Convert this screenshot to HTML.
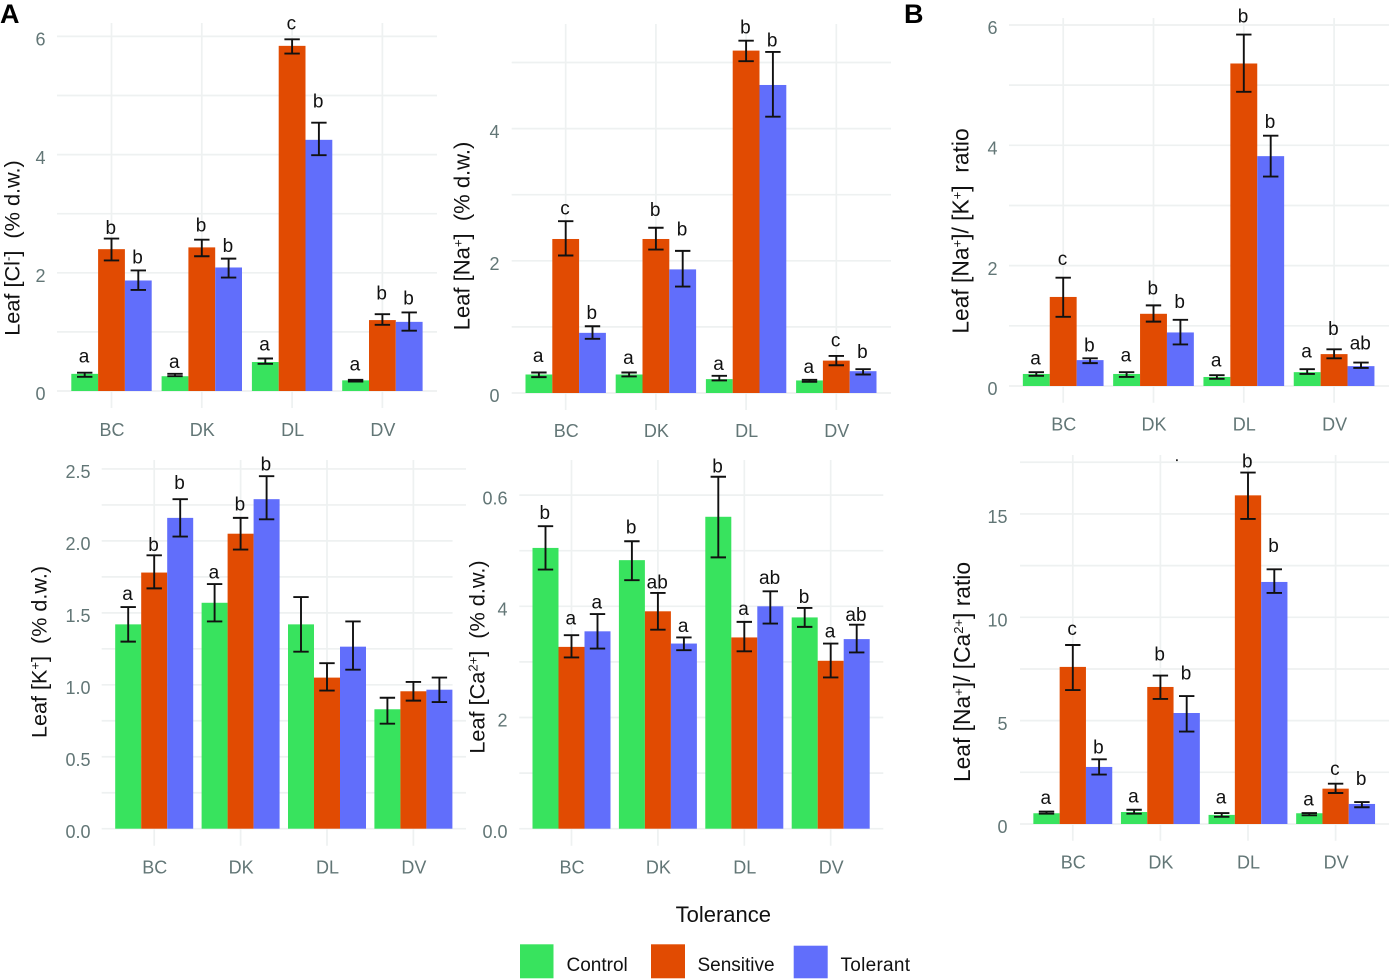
<!DOCTYPE html>
<html lang="en">
<head>
<meta charset="utf-8">
<title>Leaf ion concentrations by tolerance group</title>
<style>
  html, body { margin: 0; padding: 0; background: #fff; }
  svg { display: block; font-family: "Liberation Sans", sans-serif; }
  .axis-title { fill: #111; white-space: pre; }
  .panel-tag { font-size: 27px; font-weight: bold; fill: #000; }
  .legend-text { font-size: 19px; fill: #111; }
</style>
</head>
<body>
<svg id="figure" width="1389" height="980" viewBox="0 0 1389 980" xmlns="http://www.w3.org/2000/svg">
  <rect x="0" y="0" width="1389" height="980" fill="#fff"/>

  <g id="panel-cl"></g>
  <g id="panel-na"></g>
  <g id="panel-nak"></g>
  <g id="panel-k"></g>
  <rect x="452.6" y="530" width="15" height="170" fill="#fff"/>
  <g id="panel-ca"></g>
  <g id="panel-naca"></g>

  <text class="panel-tag" x="0" y="23">A</text>
  <text class="panel-tag" x="904" y="23">B</text>

  <text class="axis-title" font-size="21.7" transform="translate(19.5 248) rotate(-90)" text-anchor="middle">Leaf [Cl<tspan dy="-7" font-size="13">-</tspan><tspan dy="7">]  (% d.w.)</tspan></text>
  <text class="axis-title" font-size="22" transform="translate(469.3 236) rotate(-90)" text-anchor="middle">Leaf [Na<tspan dy="-7" font-size="13">+</tspan><tspan dy="7">]  (% d.w.)</tspan></text>
  <text class="axis-title" font-size="22.8" transform="translate(968.3 231) rotate(-90)" text-anchor="middle">Leaf [Na<tspan dy="-7" font-size="13">+</tspan><tspan dy="7">]/ [K</tspan><tspan dy="-7" font-size="13">+</tspan><tspan dy="7">]  ratio</tspan></text>
  <text class="axis-title" font-size="21.6" transform="translate(46.7 652) rotate(-90)" text-anchor="middle">Leaf [K<tspan dy="-7" font-size="13">+</tspan><tspan dy="7">]  (% d.w.)</tspan></text>
  <text class="axis-title" font-size="21.7" transform="translate(484.3 657) rotate(-90)" text-anchor="middle">Leaf [Ca<tspan dy="-7" font-size="13">2+</tspan><tspan dy="7">]  (% d.w.)</tspan></text>
  <text class="axis-title" font-size="22.8" transform="translate(970 672) rotate(-90)" text-anchor="middle">Leaf [Na<tspan dy="-7" font-size="13">+</tspan><tspan dy="7">]/ [Ca</tspan><tspan dy="-7" font-size="13">2+</tspan><tspan dy="7">] ratio</tspan></text>

  <rect x="1176" y="459.3" width="1.8" height="1.8" fill="#222"/>

  <g>
    <text x="723.3" y="922" text-anchor="middle" font-size="22" fill="#111">Tolerance</text>
    <rect x="520" y="944.3" width="33.5" height="34" fill="#38E35E"/>
    <text class="legend-text" x="566.5" y="971">Control</text>
    <rect x="651" y="944.3" width="34" height="34" fill="#E14B02"/>
    <text class="legend-text" x="697.5" y="971">Sensitive</text>
    <rect x="793.7" y="945.7" width="34" height="32.6" fill="#616EFB"/>
    <text class="legend-text" x="840.5" y="971" textLength="69.5">Tolerant</text>
  </g>
</svg>

<script>
// Shared categories and series
const categories = ['BC', 'DK', 'DL', 'DV'];
const seriesNames = ['control', 'sensitive', 'tolerant'];
const seriesColors = ['#38E35E', '#E14B02', '#616EFB'];

// High, low, letters and lifts run: BC control, sensitive, tolerant; DK ...; DL ...; DV ...
// Lift is the letter's height above the error bar, in data units.

// Leaf chloride
const clTicks = [0, 2, 4, 6];
const clTickLabels = ['0', '2', '4', '6'];
const clMinorTicks = [1, 3, 5];
const clControl = [0.29, 0.25, 0.49, 0.18];
const clSensitive = [2.40, 2.43, 5.84, 1.20];
const clTolerant = [1.87, 2.09, 4.25, 1.17];
const clHigh = [0.31, 2.58, 2.04, 0.29, 2.56, 2.24, 0.55, 5.95, 4.54, 0.19, 1.30, 1.33];
const clLow = [0.24, 2.21, 1.71, 0.25, 2.28, 1.92, 0.46, 5.71, 3.99, 0.16, 1.12, 1.02];
const clLetters = ['a', 'b', 'b', 'a', 'b', 'b', 'a', 'c', 'b', 'a', 'b', 'b'];
const clLift = [0.17, 0.08, 0.12, 0.10, 0.135, 0.11, 0.135, 0.17, 0.26, 0.16, 0.25, 0.13];

// Leaf sodium
const naTicks = [0, 2, 4];
const naTickLabels = ['0', '2', '4'];
const naMinorTicks = [1, 3, 5];
const naControl = [0.28, 0.28, 0.21, 0.19];
const naSensitive = [2.33, 2.33, 5.18, 0.49];
const naTolerant = [0.91, 1.87, 4.66, 0.33];
const naHigh = [0.31, 2.60, 1.01, 0.31, 2.50, 2.15, 0.26, 5.33, 5.16, 0.20, 0.56, 0.36];
const naLow = [0.24, 2.08, 0.82, 0.25, 2.17, 1.61, 0.19, 5.02, 4.18, 0.17, 0.42, 0.28];
const naLetters = ['a', 'c', 'b', 'a', 'b', 'b', 'a', 'b', 'b', 'a', 'c', 'b'];
const naLift = [0.16, 0.10, 0.11, 0.13, 0.18, 0.23, 0.09, 0.11, 0.08, 0.10, 0.14, 0.17];

// Na/K ratio
const nakTicks = [0, 2, 4, 6];
const nakTickLabels = ['0', '2', '4', '6'];
const nakMinorTicks = [1, 3, 5];
const nakControl = [0.20, 0.20, 0.15, 0.23];
const nakSensitive = [1.48, 1.20, 5.36, 0.53];
const nakTolerant = [0.43, 0.89, 3.82, 0.33];
const nakHigh = [0.23, 1.80, 0.46, 0.23, 1.34, 1.10, 0.18, 5.84, 4.16, 0.28, 0.61, 0.39];
const nakLow = [0.17, 1.15, 0.38, 0.15, 1.07, 0.69, 0.12, 4.89, 3.48, 0.20, 0.46, 0.30];
const nakLetters = ['a', 'c', 'b', 'a', 'b', 'b', 'a', 'b', 'b', 'a', 'b', 'ab'];
const nakLift = [0.13, 0.21, 0.11, 0.18, 0.18, 0.20, 0.14, 0.20, 0.13, 0.19, 0.24, 0.22];

// Leaf potassium
const kTicks = [0, 0.5, 1, 1.5, 2, 2.5];
const kTickLabels = ['0.0', '0.5', '1.0', '1.5', '2.0', '2.5'];
const kMinorTicks = [0.25, 0.75, 1.25, 1.75, 2.25];
const kControl = [1.42, 1.57, 1.42, 0.83];
const kSensitive = [1.78, 2.05, 1.05, 0.955];
const kTolerant = [2.16, 2.29, 1.265, 0.966];
const kHigh = [1.54, 1.90, 2.29, 1.70, 2.16, 2.45, 1.61, 1.15, 1.44, 0.91, 1.02, 1.05];
const kLow = [1.30, 1.67, 2.03, 1.44, 1.94, 2.15, 1.23, 0.96, 1.105, 0.73, 0.89, 0.88];
const kLetters = ['a', 'b', 'b', 'a', 'b', 'b', '', '', '', '', '', ''];
const kLift = [0.05, 0.03, 0.07, 0.04, 0.05, 0.04, 0, 0, 0, 0, 0, 0];

// Leaf calcium (the top tick really is printed 0.6 in the source figure)
const caTicks = [0, 2, 4, 6];
const caTickLabels = ['0.0', '2', '4', '0.6'];
const caMinorTicks = [1, 3, 5];
const caControl = [5.05, 4.83, 5.61, 3.80];
const caSensitive = [3.27, 3.91, 3.44, 3.02];
const caTolerant = [3.55, 3.33, 4.00, 3.41];
const caHigh = [5.44, 3.48, 3.86, 5.17, 4.24, 3.44, 6.33, 3.72, 4.27, 3.97, 3.33, 3.67];
const caLow = [4.66, 3.08, 3.24, 4.47, 3.58, 3.21, 4.88, 3.19, 3.69, 3.63, 2.72, 3.17];
const caLetters = ['b', 'a', 'a', 'b', 'ab', 'a', 'b', 'a', 'ab', 'b', 'a', 'ab'];
const caLift = [0.13, 0.19, 0.10, 0.14, 0.08, 0.10, 0.08, 0.12, 0.13, 0.09, 0.11, 0.07];

// Na/Ca ratio
const nacaTicks = [0, 5, 10, 15];
const nacaTickLabels = ['0', '5', '10', '15'];
const nacaMinorTicks = [2.5, 7.5, 12.5, 17.5];
const nacaControl = [0.52, 0.58, 0.44, 0.52];
const nacaSensitive = [7.60, 6.63, 15.90, 1.71];
const nacaTolerant = [2.76, 5.37, 11.71, 0.97];
const nacaHigh = [0.60, 8.66, 3.13, 0.69, 7.18, 6.19, 0.53, 17.00, 12.32, 0.53, 1.95, 1.06];
const nacaLow = [0.50, 6.48, 2.39, 0.50, 6.05, 4.47, 0.35, 14.76, 11.18, 0.42, 1.50, 0.81];
const nacaLetters = ['a', 'c', 'b', 'a', 'b', 'b', 'a', 'b', 'b', 'a', 'c', 'b'];
const nacaLift = [0.37, 0.48, 0.29, 0.35, 0.73, 0.81, 0.45, 0.24, 0.85, 0.37, 0.42, 0.82];

const panels = [
  { id: 'panel-cl', ticks: clTicks, tickLabels: clTickLabels, minor: clMinorTicks,
    series: [clControl, clSensitive, clTolerant], high: clHigh, low: clLow, letters: clLetters, lift: clLift,
    zeroY: 391, unit: 59.1, x0: 111.5, step: 90.3, barW: 26.8,
    gridL: 57, gridR: 437, gridT: 23, gridB: 408, tickX: 45.5, catY: 436 },
  { id: 'panel-na', ticks: naTicks, tickLabels: naTickLabels, minor: naMinorTicks,
    series: [naControl, naSensitive, naTolerant], high: naHigh, low: naLow, letters: naLetters, lift: naLift,
    zeroY: 393, unit: 66.1, x0: 565.7, step: 90.2, barW: 26.8,
    gridL: 511.7, gridR: 891, gridT: 24, gridB: 410, tickX: 499.5, catY: 437 },
  { id: 'panel-nak', ticks: nakTicks, tickLabels: nakTickLabels, minor: nakMinorTicks,
    series: [nakControl, nakSensitive, nakTolerant], high: nakHigh, low: nakLow, letters: nakLetters, lift: nakLift,
    zeroY: 386, unit: 60.17, x0: 1063.2, step: 90.3, barW: 26.9,
    gridL: 1009, gridR: 1389, gridT: 18, gridB: 402.7, tickX: 997.5, catY: 430.7 },
  { id: 'panel-k', ticks: kTicks, tickLabels: kTickLabels, minor: kMinorTicks,
    series: [kControl, kSensitive, kTolerant], high: kHigh, low: kLow, letters: kLetters, lift: kLift,
    zeroY: 828.7, unit: 143.9, x0: 154.2, step: 86.4, barW: 26,
    gridL: 101.7, gridR: 466, gridT: 460, gridB: 845.7, tickX: 90.5, catY: 873.3 },
  { id: 'panel-ca', ticks: caTicks, tickLabels: caTickLabels, minor: caMinorTicks,
    series: [caControl, caSensitive, caTolerant], high: caHigh, low: caLow, letters: caLetters, lift: caLift,
    zeroY: 828.7, unit: 55.6, x0: 571.5, step: 86.4, barW: 26,
    gridL: 519.3, gridR: 883.3, gridT: 460, gridB: 845.7, tickX: 507.5, catY: 873.3 },
  { id: 'panel-naca', ticks: nacaTicks, tickLabels: nacaTickLabels, minor: nacaMinorTicks,
    series: [nacaControl, nacaSensitive, nacaTolerant], high: nacaHigh, low: nacaLow, letters: nacaLetters, lift: nacaLift,
    zeroY: 824, unit: 20.67, x0: 1072.8, step: 87.6, barW: 26.3,
    gridL: 1020, gridR: 1389, gridT: 455, gridB: 840.7, tickX: 1007.5, catY: 868.3 }
];

const SVG_NS = 'http://www.w3.org/2000/svg';
const GRID_COLOR = '#eef1f1';
const TICK_COLOR = '#627676';
const INK = '#111';
const CAP_HALF = 7.7;

function make(parent, tag, attrs) {
  const el = document.createElementNS(SVG_NS, tag);
  for (const key in attrs) el.setAttribute(key, attrs[key]);
  parent.appendChild(el);
  return el;
}

function drawPanel(p) {
  const root = document.getElementById(p.id);
  const yScale = v => p.zeroY - v * p.unit;
  const xCenter = i => p.x0 + i * p.step;
  const xSeries = (i, s) => xCenter(i) + (s - 1) * p.barW;

  p.minor.concat(p.ticks).forEach(v => {
    const line = make(root, 'line', { x1: p.gridL, x2: p.gridR, y1: yScale(v), y2: yScale(v), stroke: GRID_COLOR, 'stroke-width': 1.7 });
    
    
  });

  categories.forEach((cat, i) => {
    const line = make(root, 'line', { x1: xCenter(i), x2: xCenter(i), y1: p.gridT, y2: p.gridB, stroke: GRID_COLOR, 'stroke-width': 1.7 });
    
    
  });

  p.series.forEach((values, s) => {
    values.forEach((v, i) => {
      const bar = make(root, 'rect', {
        x: xSeries(i, s) - p.barW / 2, y: yScale(v),
        width: p.barW, height: Math.max(0, yScale(0) - yScale(v)), fill: seriesColors[s]
      });
      
      
    });
  });

  categories.forEach((cat, i) => {
    seriesNames.forEach((name, s) => {
      const k = i * 3 + s;
      const cx = xSeries(i, s);
      const hi = yScale(p.high[k]);
      const lo = yScale(p.low[k]);
      const err = make(root, 'path', {
        d: 'M' + (cx - CAP_HALF) + ' ' + hi + 'H' + (cx + CAP_HALF) + 'M' + cx + ' ' + hi + 'V' + lo + 'M' + (cx - CAP_HALF) + ' ' + lo + 'H' + (cx + CAP_HALF),
        fill: 'none', stroke: INK, 'stroke-width': 1.9
      });
      
      

      if (p.letters[k]) {
        const letter = make(root, 'text', {
          x: cx - 0.7, y: yScale(p.high[k] + p.lift[k]), 'text-anchor': 'middle', 'font-size': 19, fill: INK
        });
        
        
        letter.textContent = p.letters[k];
      }
    });
  });

  p.ticks.forEach((v, t) => {
    const label = make(root, 'text', { x: p.tickX, y: yScale(v) + 9.2, 'text-anchor': 'end', 'font-size': 18, fill: TICK_COLOR });
    
    
    label.textContent = p.tickLabels[t];
  });

  categories.forEach((cat, i) => {
    const label = make(root, 'text', { x: xCenter(i) + 0.5, y: p.catY, 'text-anchor': 'middle', 'font-size': 18, fill: TICK_COLOR });
    
    
    label.textContent = cat;
  });
}

panels.forEach(drawPanel);
</script>
</body>
</html>
